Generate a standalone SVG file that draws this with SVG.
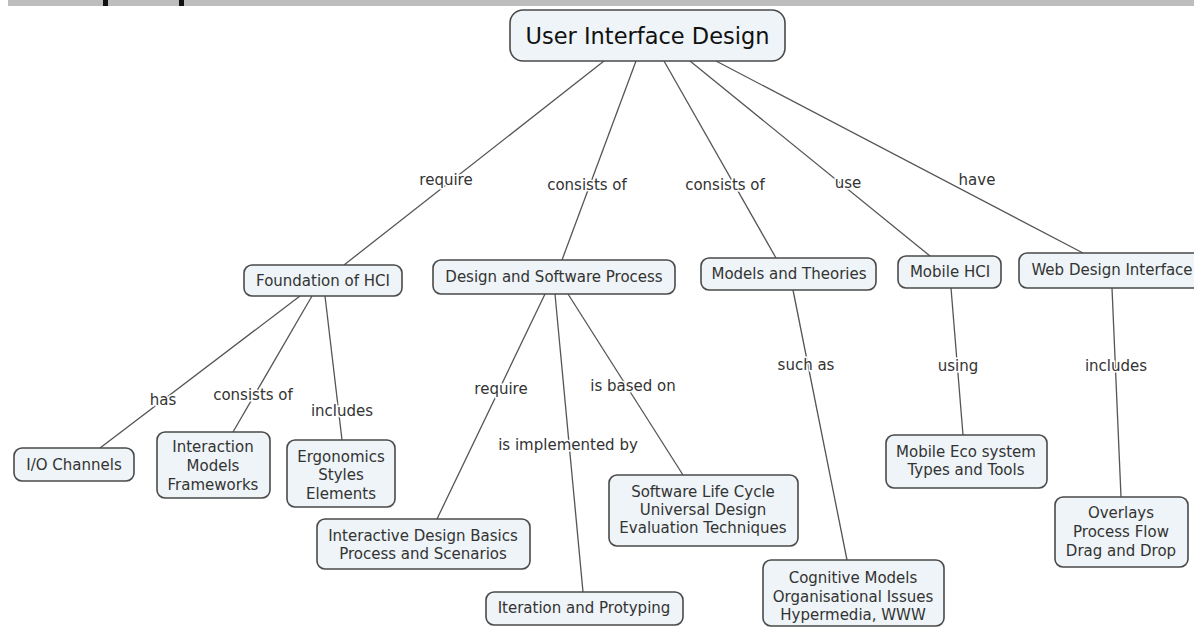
<svg xmlns="http://www.w3.org/2000/svg" width="1194" height="628" viewBox="0 0 1194 628">
<style>
.n rect{fill:#eef4f7;stroke:#4a4a4a;stroke-width:1.6}
.n text,.lb{font-family:"DejaVu Sans","Liberation Sans",sans-serif;font-size:15px;fill:#333;text-anchor:middle}
.lb{stroke:#fff;stroke-width:3;paint-order:stroke}
#conn line{stroke:#555;stroke-width:1.3}
</style>
<rect x="8" y="0" width="1186" height="6" fill="#bdbdbd"/>
<rect x="103" y="0" width="5" height="6" fill="#111"/>
<rect x="179" y="0" width="5" height="6" fill="#111"/>
<g id="conn">
<line x1="604" y1="61" x2="344" y2="265"/>
<line x1="636" y1="61" x2="562" y2="260"/>
<line x1="664" y1="61" x2="776" y2="258"/>
<line x1="690" y1="61" x2="930" y2="256"/>
<line x1="716" y1="61" x2="1083" y2="253"/>
<line x1="300" y1="296" x2="100" y2="448"/>
<line x1="312" y1="296" x2="233" y2="432"/>
<line x1="325" y1="296" x2="342" y2="440"/>
<line x1="545" y1="294" x2="437" y2="519"/>
<line x1="555" y1="294" x2="583" y2="592"/>
<line x1="568" y1="294" x2="683" y2="475"/>
<line x1="793" y1="290" x2="847" y2="560"/>
<line x1="951" y1="288" x2="963" y2="435"/>
<line x1="1112" y1="288" x2="1121" y2="497"/>
<text class="lb" x="446" y="185">require</text>
<text class="lb" x="587" y="190">consists of</text>
<text class="lb" x="725" y="190">consists of</text>
<text class="lb" x="848" y="188">use</text>
<text class="lb" x="977" y="185">have</text>
<text class="lb" x="163" y="405">has</text>
<text class="lb" x="253" y="400">consists of</text>
<text class="lb" x="342" y="416">includes</text>
<text class="lb" x="501" y="394">require</text>
<text class="lb" x="568" y="450">is implemented by</text>
<text class="lb" x="633" y="391">is based on</text>
<text class="lb" x="806" y="370">such as</text>
<text class="lb" x="958" y="371">using</text>
<text class="lb" x="1116" y="371">includes</text>
</g>
<g id="uid" class="n"><rect x="510" y="10" width="275" height="51" rx="13"/><text x="647.5" y="44" style="font-size:22.5px;fill:#111">User Interface Design</text></g>
<g id="foundation" class="n"><rect x="244" y="265" width="158" height="31" rx="8"/><text x="323" y="286">Foundation of HCI</text></g>
<g id="dsp" class="n"><rect x="433" y="260" width="242" height="34" rx="8"/><text x="554" y="282">Design and Software Process</text></g>
<g id="models" class="n"><rect x="701" y="258" width="175" height="32" rx="8"/><text x="789" y="279">Models and Theories</text></g>
<g id="mobile" class="n"><rect x="898" y="256" width="103" height="32" rx="8"/><text x="950" y="277">Mobile HCI</text></g>
<g id="web" class="n"><rect x="1019" y="253" width="190" height="35" rx="8"/><text x="1112" y="275">Web Design Interface</text></g>
<g id="io" class="n"><rect x="14" y="448" width="120" height="33" rx="8"/><text x="74" y="470">I/O Channels</text></g>
<g id="interaction" class="n"><rect x="157" y="432" width="113" height="66" rx="8"/><text x="213" y="452">Interaction</text><text x="213" y="471">Models</text><text x="213" y="490">Frameworks</text></g>
<g id="ergonomics" class="n"><rect x="287" y="440" width="108" height="67" rx="8"/><text x="341" y="462">Ergonomics</text><text x="341" y="480">Styles</text><text x="341" y="499">Elements</text></g>
<g id="interactive" class="n"><rect x="317" y="519" width="213" height="50" rx="8"/><text x="423" y="541">Interactive Design Basics</text><text x="423" y="559">Process and Scenarios</text></g>
<g id="iteration" class="n"><rect x="486" y="592" width="197" height="33" rx="8"/><text x="584" y="613">Iteration and Protyping</text></g>
<g id="slc" class="n"><rect x="609" y="475" width="189" height="71" rx="8"/><text x="703" y="497">Software Life Cycle</text><text x="703" y="515">Universal Design</text><text x="703" y="533">Evaluation Techniques</text></g>
<g id="cognitive" class="n"><rect x="763" y="560" width="181" height="66" rx="8"/><text x="853" y="583">Cognitive Models</text><text x="853" y="602">Organisational Issues</text><text x="853" y="620">Hypermedia, WWW</text></g>
<g id="eco" class="n"><rect x="886" y="435" width="161" height="53" rx="8"/><text x="966" y="457">Mobile Eco system</text><text x="966" y="475">Types and Tools</text></g>
<g id="overlays" class="n"><rect x="1055" y="497" width="133" height="70" rx="8"/><text x="1121" y="518">Overlays</text><text x="1121" y="537">Process Flow</text><text x="1121" y="556">Drag and Drop</text></g>
</svg>
